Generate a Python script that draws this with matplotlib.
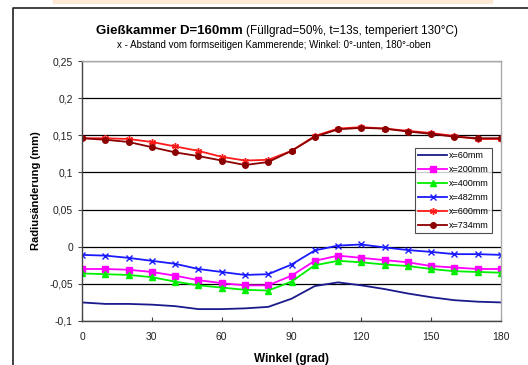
import matplotlib.pyplot as plt
from matplotlib.lines import Line2D
from matplotlib.patches import Rectangle

winkel = [0, 10, 20, 30, 40, 50, 60, 70, 80, 90, 100, 110, 120, 130, 140, 150, 160, 170, 180]

x60 = [-0.075, -0.077, -0.077, -0.078, -0.080, -0.084, -0.084, -0.083, -0.081, -0.070,
       -0.053, -0.048, -0.052, -0.057, -0.063, -0.068, -0.072, -0.074, -0.075]
x200 = [-0.030, -0.030, -0.031, -0.034, -0.039, -0.045, -0.049, -0.052, -0.052, -0.039,
        -0.019, -0.012, -0.015, -0.018, -0.021, -0.026, -0.028, -0.030, -0.030]
x400 = [-0.036, -0.037, -0.038, -0.041, -0.047, -0.052, -0.055, -0.058, -0.059, -0.047,
        -0.025, -0.019, -0.021, -0.024, -0.026, -0.030, -0.033, -0.034, -0.035]
x482 = [-0.011, -0.012, -0.015, -0.019, -0.023, -0.030, -0.034, -0.038, -0.037, -0.024,
        -0.005, 0.0015, 0.003, -0.001, -0.0045, -0.007, -0.010, -0.010, -0.011]
x600 = [0.146, 0.146, 0.145, 0.141, 0.135, 0.129, 0.121, 0.116, 0.117, 0.129,
        0.149, 0.159, 0.161, 0.159, 0.156, 0.153, 0.149, 0.145, 0.145]
x734 = [0.146, 0.144, 0.141, 0.134, 0.127, 0.122, 0.116, 0.110, 0.114, 0.129,
        0.148, 0.158, 0.160, 0.159, 0.155, 0.152, 0.148, 0.146, 0.146]

y_ticks = [-0.1, -0.05, 0, 0.05, 0.1, 0.15, 0.2, 0.25]
y_labels = ['-0,1', '-0,05', '0', '0,05', '0,1', '0,15', '0,2', '0,25']
x_ticks = [0, 30, 60, 90, 120, 150, 180]

plt.rcParams['font.family'] = ['Liberation Sans', 'DejaVu Sans']

fig = plt.figure(figsize=(5.28, 3.65), dpi=100)
W, H = 528, 365

# tan strip at top and black frame
fig.patches.append(Rectangle((53 / W, 1 - 3 / H), (492 - 53) / W, 3 / H,
                             transform=fig.transFigure, color='#fbe9d6', zorder=0))
fig.lines.append(Line2D([13 / W, 13 / W, 1.0], [0.0, 1 - 8 / H, 1 - 8 / H],
                        transform=fig.transFigure, color='#222222', lw=1.2))

ax = fig.add_axes([82 / W, 44 / H, (501 - 82) / W, (321 - 61) / H])

ax.plot(winkel, x60, color='#1a1a8c', lw=1.3, label='x=60mm')
ax.plot(winkel, x200, color='#ff00ff', lw=1.3, marker='s', ms=4.5, label='x=200mm')
ax.plot(winkel, x400, color='#00ee00', lw=1.3, marker='^', ms=4.5, label='x=400mm')
ax.plot(winkel, x482, color='#1a1aff', lw=1.3, marker='x', ms=4.5, mew=1.0, label='x=482mm')
ax.plot(winkel, x600, color='#ff1a1a', lw=1.3, marker=(6, 2, 0), ms=5, mew=1.0, label='x=600mm')
ax.plot(winkel, x734, color='#8b0000', lw=1.3, marker='o', ms=4, label='x=734mm')

ax.set_xlim(0, 180)
ax.set_ylim(-0.1, 0.25)
ax.set_xticks(x_ticks)
ax.set_yticks(y_ticks)
ax.set_yticklabels(y_labels)
ax.tick_params(axis='both', labelsize=7.5, length=3, color='#444444', labelcolor='#222222')
ax.tick_params(axis='x', direction='in', pad=8)
ax.grid(axis='y', color='black', lw=0.9)
ax.set_axisbelow(True)
for side in ['left', 'bottom']:
    ax.spines[side].set_color('#444444')
    ax.spines[side].set_linewidth(1.0)
for side in ['top', 'right']:
    ax.spines[side].set_color('#aaaaaa')
    ax.spines[side].set_linewidth(1.0)

ax.set_ylabel('Radiusänderung (mm)', fontsize=8, fontweight='bold', labelpad=6)
ax.set_xlabel('Winkel (grad)', fontsize=8.5, fontweight='bold', labelpad=8)

leg = ax.legend(loc='upper left', bbox_to_anchor=(0.795, 0.665), fontsize=6.5,
                frameon=True, fancybox=False, edgecolor='#222222', borderpad=0.35,
                labelspacing=0.55, handlelength=3.2, handletextpad=0.2, borderaxespad=0)
leg.get_frame().set_linewidth(0.8)

fig.text(243 / W, 1 - 31 / H, 'Gießkammer D=160mm', fontsize=9.5, fontweight='bold',
         ha='right', va='center')
fig.text(246 / W, 1 - 31 / H, '(Füllgrad=50%, t=13s, temperiert 130°C)', fontsize=8.5,
         ha='left', va='center')
fig.text(273.5 / W, 1 - 45 / H, 'x - Abstand vom formseitigen Kammerende; Winkel: 0°-unten, 180°-oben',
         fontsize=7.0, ha='center', va='center')

fig.savefig('out.png', dpi=100)
